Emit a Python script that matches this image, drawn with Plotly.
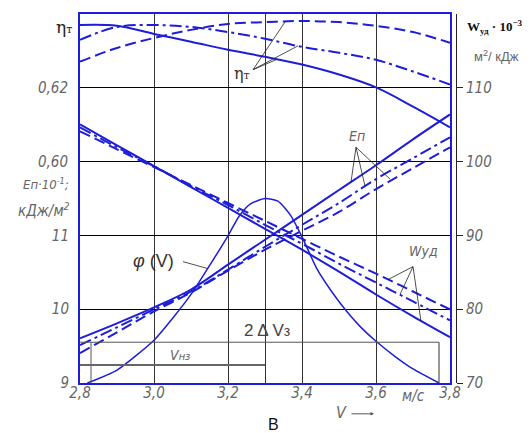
import plotly.graph_objects as go

# скорость, м/с
V = [2.8, 2.9, 3.0, 3.1, 3.2, 3.3, 3.4, 3.5, 3.6, 3.7, 3.8]

# КПД ηт (три варианта)
eta_solid = [0.6370, 0.6368, 0.6346, 0.6325, 0.6303, 0.6284, 0.6263, 0.6236, 0.6201, 0.6149, 0.6093]
eta_dash = [0.6271, 0.6308, 0.6335, 0.6357, 0.6373, 0.6378, 0.6381, 0.6378, 0.6368, 0.6351, 0.6322]
eta_dashdot = [0.6330, 0.6365, 0.6370, 0.6365, 0.6351, 0.6333, 0.6311, 0.6295, 0.6276, 0.6244, 0.6209]

# Eп·10^-1, кДж/м2
en_solid = [9.606, 9.809, 10.024, 10.267, 10.604, 10.941, 11.278, 11.615, 11.951, 12.302, 12.639]
en_dash = [9.404, 9.687, 9.970, 10.226, 10.523, 10.806, 11.062, 11.318, 11.628, 11.911, 12.194]
en_dashdot = [9.512, 9.755, 9.997, 10.240, 10.536, 10.846, 11.143, 11.439, 11.763, 12.046, 12.329]

# Wуд·10^-3, м2/кДж
w_solid = [105.04, 102.21, 99.38, 96.55, 93.72, 90.89, 88.06, 85.09, 81.99, 79.03, 76.20]
w_dash = [104.10, 101.67, 99.25, 96.82, 94.39, 91.97, 89.54, 87.12, 84.82, 82.40, 79.97]
w_dashdot = [104.64, 101.94, 99.38, 96.68, 94.12, 91.43, 88.87, 86.17, 83.61, 81.05, 78.49]

# плотность распределения φ(V), без шкалы
phi_v = [2.82, 2.90, 3.00, 3.05, 3.10, 3.15, 3.20, 3.23, 3.26, 3.30, 3.335, 3.37, 3.40, 3.44, 3.48, 3.52, 3.56, 3.60, 3.65, 3.70, 3.77]
phi = [0.0, 0.035, 0.116, 0.175, 0.240, 0.318, 0.399, 0.452, 0.485, 0.500, 0.493, 0.453, 0.396, 0.310, 0.248, 0.195, 0.150, 0.113, 0.073, 0.038, 0.0]

BLUE = "#1e1ed8"
GRAY = "#666666"
DASH = "11px,5px"
DASHDOT = "12px,4px,3px,4px"
NARROW = "Liberation Sans Narrow, DejaVu Sans Condensed, sans-serif"
TICKFONT = dict(family=NARROW, size=15, color=GRAY, style="italic")


def P(px, py):
    # пиксели картинки -> координаты paper
    return (px - 72) / 376, (375 - py) / 371


def D(px, py):
    # пиксели картинки -> (V, Wуд)
    return 2.8 + (px - 72) / 370, 70 + (375 - py) / 7.42


fig = go.Figure()

for ys, dash in [(eta_solid, "solid"), (eta_dash, DASH), (eta_dashdot, DASHDOT)]:
    fig.add_trace(go.Scatter(x=V, y=ys, yaxis="y", mode="lines", line_shape="spline",
                             line=dict(color=BLUE, width=2, dash=dash)))
for ys, dash in [(en_solid, "solid"), (en_dash, DASH), (en_dashdot, DASHDOT)]:
    fig.add_trace(go.Scatter(x=V, y=ys, yaxis="y2", mode="lines", line_shape="spline",
                             line=dict(color=BLUE, width=2, dash=dash)))
for ys, dash in [(w_solid, "solid"), (w_dash, DASH), (w_dashdot, DASHDOT)]:
    fig.add_trace(go.Scatter(x=V, y=ys, yaxis="y3", mode="lines", line_shape="spline",
                             line=dict(color=BLUE, width=2, dash=dash)))
fig.add_trace(go.Scatter(x=phi_v, y=phi, yaxis="y4", mode="lines",
                         line=dict(color=BLUE, width=1.5, shape="spline", smoothing=0.6)))

shapes = []
# 2ΔVз и Vнз
x1, yb = D(83, 334)
x2, _ = D(431, 334)
shapes += [
    dict(type="line", xref="x", yref="y3", x0=2.8, x1=x2, y0=yb, y1=yb, line=dict(color="#555", width=1)),
    dict(type="line", xref="x", yref="y3", x0=x1, x1=x1, y0=yb, y1=70, line=dict(color="#555", width=1)),
    dict(type="line", xref="x", yref="y3", x0=x2, x1=x2, y0=yb, y1=70, line=dict(color="#333", width=1)),
]
xv, yv = D(257, 357)
shapes.append(dict(type="line", xref="x", yref="y3", x0=2.8, x1=xv, y0=yv, y1=yv,
                   line=dict(color="#666", width=2)))

# выноски
leaders = [
    ((245, 60), [(277, 12), (290, 36), (268, 50)]),
    ((348, 138), [(343, 173), (357, 177), (382, 170)]),
    ((405, 258), [(380, 271), (392, 286), (413, 313)]),
    ((175, 253), [(200, 260)]),
]
for (vx, vy), ends in leaders:
    a = D(vx, vy)
    for ex, ey in ends:
        b = D(ex, ey)
        shapes.append(dict(type="line", xref="x", yref="y3", x0=a[0], y0=a[1], x1=b[0], y1=b[1],
                           line=dict(color="#222", width=0.8)))

texts = [
    ("η<span style='font-size:11px'>т</span>", 56, 17, dict(size=17, color="#222", family="DejaVu Serif")),
    ("Eп·10<sup>-1</sup>;", 38, 175, dict(size=13, color=GRAY, family=NARROW, style="italic")),
    ("кДж/м<sup>2</sup>", 36, 201, dict(size=15, color=GRAY, family=NARROW, style="italic")),
    ("<b>W</b><sub><b>уд</b></sub><b> · 10<sup>−3</sup></b>", 487, 17, dict(size=13, color="#111", family="Liberation Serif")),
    ("м<sup>2</sup>/ кДж", 488, 46, dict(size=13, color=GRAY, family="Liberation Sans")),
    ("м/с", 405, 388, TICKFONT),
    ("V", 333, 405, dict(size=16, color=GRAY, family=NARROW, style="italic")),
    ("В", 265, 417, dict(size=16, color="#111", family="Liberation Sans")),
    ("2 Δ V<span style='font-size:14px'>з</span>", 259, 322, dict(size=17, color="#444", family="Liberation Sans")),
    ("V<span style='font-size:11px'>нз</span>", 172, 347, dict(size=14, color=GRAY, family=NARROW, style="italic")),
    ("<i>φ</i> (V)", 145, 252, dict(size=18, color="#333", family="Liberation Sans")),
    ("η<span style='font-size:11px'>т</span>", 234, 64, dict(size=16, color="#333", family="DejaVu Serif")),
    ("Eп", 349, 127, dict(size=14, color=GRAY, family=NARROW, style="italic")),
    ("Wуд", 415, 242, dict(size=14, color=GRAY, family=NARROW, style="italic")),
]
annotations = []
for t, px, py, f in texts:
    x, y = P(px, py)
    annotations.append(dict(text=t, x=x, y=y, xref="paper", yref="paper", showarrow=False,
                            xanchor="center", yanchor="middle", font=f))
hx, hy = P(366, 406)
annotations.append(dict(text="", x=hx, y=hy, xref="paper", yref="paper", showarrow=True,
                        ax=-24, ay=0, arrowhead=2, arrowsize=0.7, arrowwidth=1, arrowcolor="#555"))

fig.update_layout(
    width=530, height=433,
    margin=dict(l=72, r=82, t=4, b=58),
    plot_bgcolor="white", paper_bgcolor="white",
    showlegend=False,
    shapes=shapes,
    annotations=annotations,
    xaxis=dict(domain=[0, 370 / 376], range=[2.8, 3.8],
               tickvals=[2.8, 3.0, 3.2, 3.3, 3.4, 3.6, 3.8],
               ticktext=["2,8", "3,0", "3,2", "", "3,4", "3,6", "3,8"],
               showgrid=True, gridcolor="#333", gridwidth=1, zeroline=False,
               showline=True, linecolor=BLUE, linewidth=2, mirror=True,
               ticks="", ticklabelstandoff=-5, tickfont=TICKFONT),
    yaxis=dict(range=[0.54, 0.64], tickvals=[0.60, 0.62], ticktext=["0,60", "0,62"],
               showgrid=True, gridcolor="black", gridwidth=1, zeroline=False,
               showline=True, linecolor=BLUE, linewidth=2, mirror=True,
               ticks="outside", ticklen=7, tickcolor="rgba(0,0,0,0)", tickfont=TICKFONT),
    yaxis2=dict(overlaying="y", side="left", anchor="x", range=[9, 14],
                tickvals=[9, 10, 11], ticktext=["9", "10", "11"],
                showgrid=True, gridcolor="black", gridwidth=1, zeroline=False, showline=False,
                ticks="outside", ticklen=7, tickcolor="rgba(0,0,0,0)", tickfont=TICKFONT),
    yaxis3=dict(overlaying="y", side="right", anchor="free", position=1, range=[70, 120],
                tickvals=[70, 80, 90, 100, 110], showgrid=False, zeroline=False,
                showline=True, linecolor="#222", linewidth=1,
                ticks="outside", ticklen=6, tickcolor="#222", tickfont=TICKFONT),
    yaxis4=dict(overlaying="y", range=[0, 1], visible=False),
)

fig.write_html("out.html")
